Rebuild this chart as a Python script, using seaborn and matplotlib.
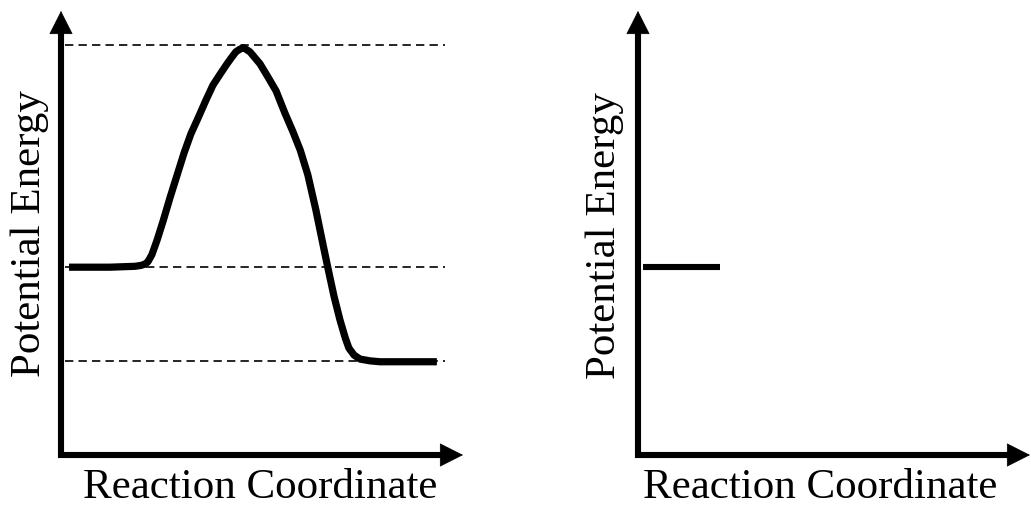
import numpy as np
import pandas as pd
import seaborn as sns
import matplotlib.pyplot as plt

# energy diagram data (reaction coordinate 0-100, potential energy 0-100)
curve_x = [2.0, 12.2, 18.4, 19.9, 20.9, 21.6, 22.6, 23.9, 25.4, 27.1, 28.9, 30.6, 32.3, 34.1,
           36.1, 37.8, 39.6, 41.3, 42.5, 43.5, 44.5, 45.3, 46.0, 47.0, 48.3, 49.5, 51.5,
           53.5, 55.7, 57.7, 59.5, 61.4, 63.4, 65.2, 66.4, 67.9, 69.4, 70.7, 71.6, 72.9,
           74.4, 76.9, 79.4, 93.5]
curve_y = [42.3, 42.3, 42.5, 42.7, 43.0, 43.5, 45.1, 48.4, 52.7, 57.9, 63.1, 68.0, 72.3, 75.9,
           80.0, 83.3, 85.8, 88.1, 89.6, 90.8, 91.4, 91.7, 91.4, 90.8, 89.4, 88.1, 85.1,
           82.0, 77.0, 72.8, 68.7, 63.1, 55.2, 47.3, 42.1, 35.8, 30.4, 26.4, 24.1, 22.5,
           21.6, 21.2, 21.0, 21.0]

levels = [92.3, 42.3, 21.2]     # transition state, reactants, products
start_x = [1.3, 20.9]           # the unfinished diagram on the right
start_y = [42.3, 42.3]

sns.set_style('white')
plt.rcParams['font.family'] = ['Liberation Serif', 'DejaVu Serif']
plt.rcParams['text.color'] = 'black'

fig = plt.figure(figsize=(10.31, 5.08), dpi=100)
W, H = 1031, 508

# axes boxes in pixels (left, right, bottom, top)
boxes = [(61, 463, 455, 11), (638, 1030, 455, 11)]
axes = []
for l, r, b, t in boxes:
    ax = fig.add_axes([l / W, 1 - b / H, (r - l) / W, (b - t) / H])
    ax.set_xlim(0, 100)
    ax.set_ylim(0, 100)
    ax.set_xticks([])
    ax.set_yticks([])
    sns.despine(ax=ax, left=True, bottom=True)
    ax.patch.set_alpha(0)
    # axis lines, ending at the arrow heads
    hx = 22 / (r - l)
    hy = 22 / (b - t)
    dx = 3 / (r - l)
    dy = 3 / (b - t)
    ax.plot([-dx, 1 - hx + 0.002], [0, 0], transform=ax.transAxes, color='black',
            lw=4.4, clip_on=False, solid_capstyle='butt')
    ax.plot([0, 0], [-dy, 1 - hy + 0.002], transform=ax.transAxes, color='black',
            lw=4.4, clip_on=False, solid_capstyle='butt')
    head = dict(arrowstyle='-|>,head_length=0.79,head_width=0.4', mutation_scale=20,
                lw=0.5, color='black', shrinkA=0, shrinkB=0)
    ax.annotate('', xy=(1, 0), xytext=(1 - hx, 0), xycoords='axes fraction',
                textcoords='axes fraction', arrowprops=head, annotation_clip=False)
    ax.annotate('', xy=(0, 1), xytext=(0, 1 - hy), xycoords='axes fraction',
                textcoords='axes fraction', arrowprops=head, annotation_clip=False)
    axes.append(ax)

ax1, ax2 = axes

# dashed reference levels
ax1.hlines(levels, 1, 95.5, colors='black', lw=1.2, linestyles=[(0, (5.0, 3.1))])

curve = pd.DataFrame({'x': curve_x, 'y': curve_y})
sns.lineplot(data=curve, x='x', y='y', ax=ax1, color='black', lw=5.2, sort=False,
             solid_joinstyle='round', solid_capstyle='butt')

start = pd.DataFrame({'x': start_x, 'y': start_y})
sns.lineplot(data=start, x='x', y='y', ax=ax2, color='black', lw=4.4,
             solid_capstyle='butt')

for ax in axes:
    ax.set_xlabel('')
    ax.set_ylabel('')

fs = 31
fig.text(260 / W, 1 - 498 / H, 'Reaction Coordinate', fontsize=fs, ha='center', va='baseline')
fig.text(820 / W, 1 - 498 / H, 'Reaction Coordinate', fontsize=fs, ha='center', va='baseline')
fig.text(30 / W, 1 - 234 / H, 'Potential Energy', fontsize=fs, ha='center', va='center', rotation=90)
fig.text(605 / W, 1 - 236 / H, 'Potential Energy', fontsize=fs, ha='center', va='center', rotation=90)

fig.savefig('out.png', dpi=100)
